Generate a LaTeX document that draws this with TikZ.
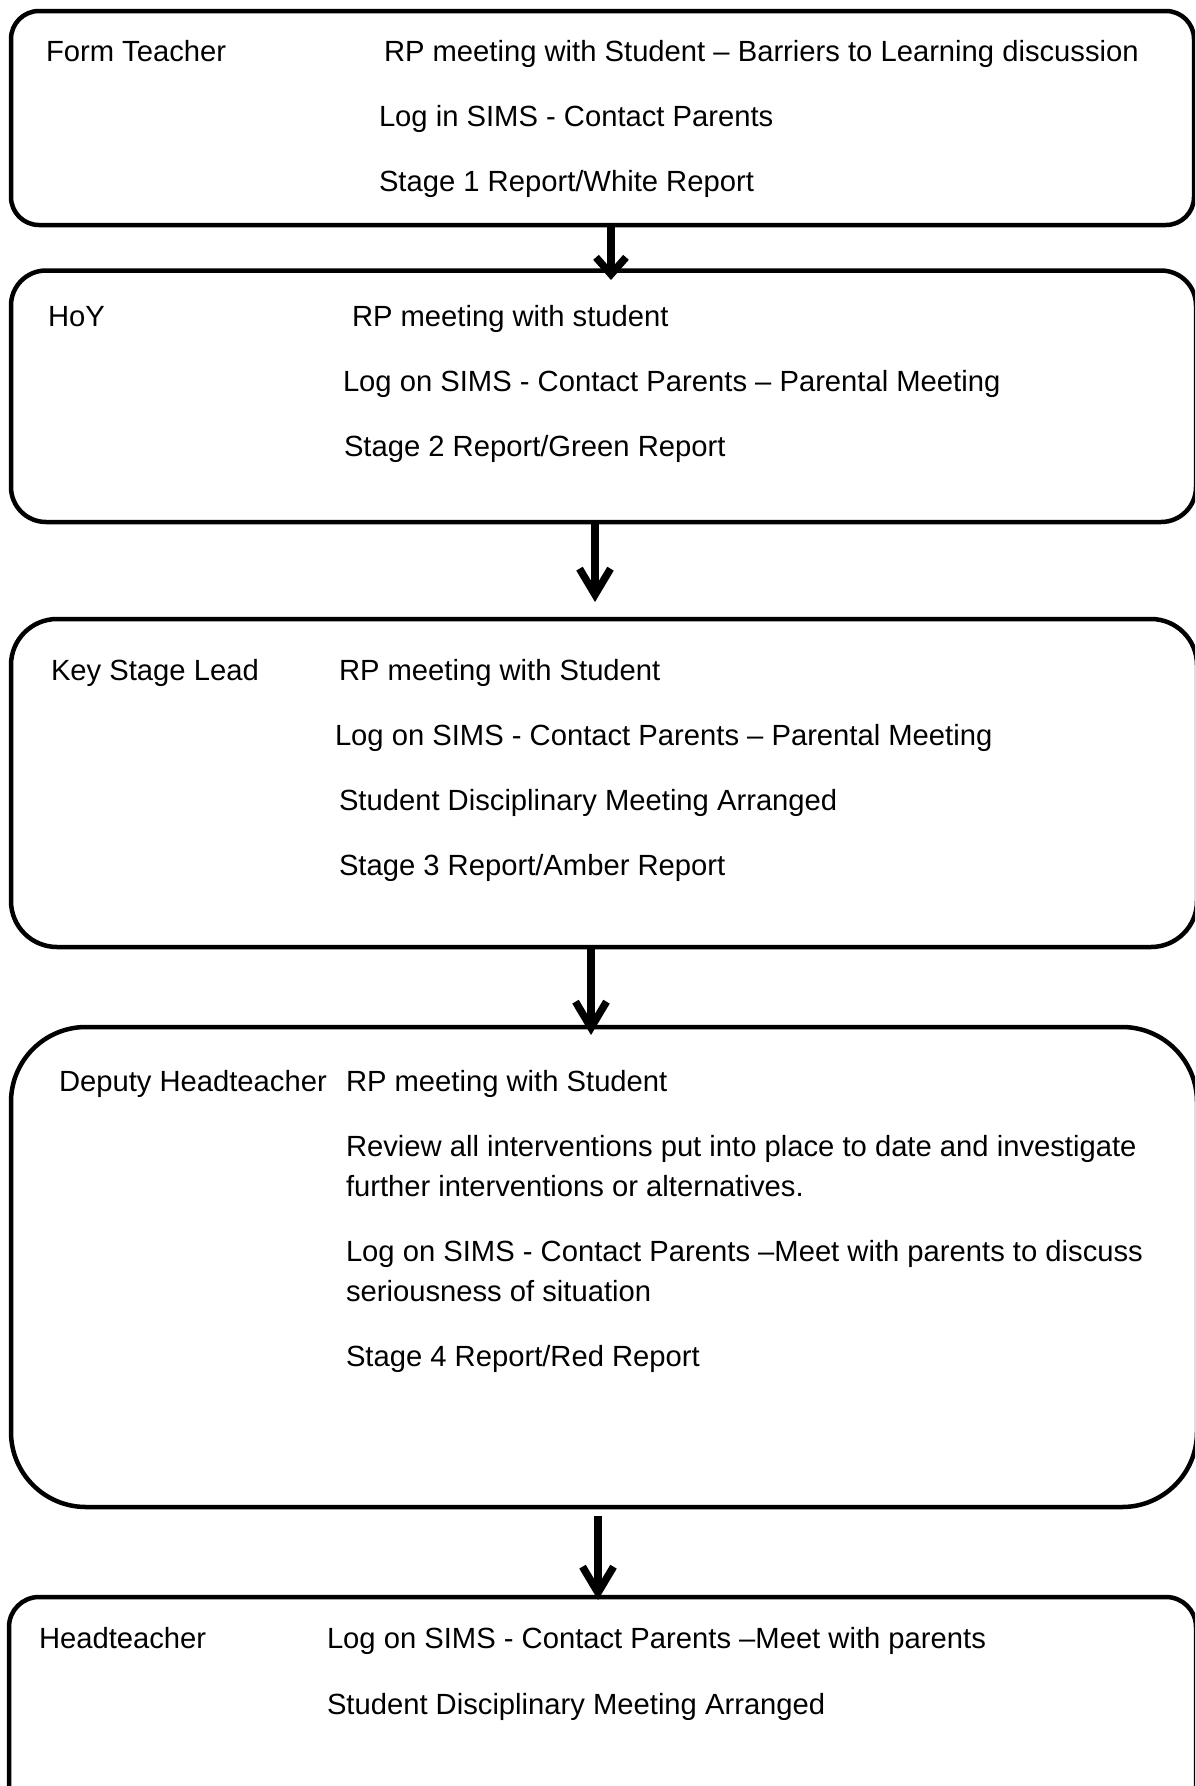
\documentclass[tikz,border=0pt]{standalone}
\usepackage{fontspec}
\setmainfont{Liberation Sans}
\usetikzlibrary{arrows.meta,calc}
\begin{document}
\begin{tikzpicture}[x=1pt,y=-1pt,
  box/.style={draw=black, line width=4.5pt, fill=none, inner sep=0pt, outer sep=0pt},
  txt/.style={anchor=base west, inner sep=0pt, outer sep=0pt, font=\fontsize{29.2}{40}\selectfont},
  arr/.style={line width=7.5pt, -{Straight Barb[length=26pt,width=31pt]}},
  arrshort/.style={line width=7.5pt, -{Straight Barb[length=17pt,width=30pt]}}]
\useasboundingbox (0,0) rectangle (1195,1786);
\clip (0,0) rectangle (1195,1786);
\fill[white] (0,0) rectangle (1195,1786);
% boxes
\node[box, minimum width=1183pt, minimum height=214pt, rounded corners=28pt] (b1) at (602.5,118) {};
\node[box, minimum width=1185pt, minimum height=251.5pt, rounded corners=35pt] (b2) at (603.5,396.25) {};
\node[box, minimum width=1186pt, minimum height=328pt, rounded corners=46pt] (b3) at (604,783) {};
\node[box, minimum width=1186pt, minimum height=480pt, rounded corners=75pt] (b4) at (604,1267) {};
\node[box, minimum width=1187pt, minimum height=240pt, rounded corners=30pt] (b5) at (602.5,1717) {};
% box 1
\node[txt] (t11) at (46,61.7) {Form Teacher};
\node[txt] (t12) at (384,61.7) {RP meeting with Student – Barriers to Learning discussion};
\node[txt] (t13) at (379,126.7) {Log in SIMS - Contact Parents};
\node[txt] (t14) at (379,191.7) {Stage 1 Report/White Report};
% box 2
\node[txt] (t21) at (48,326.5) {HoY};
\node[txt] (t22) at (352,326.5) {RP meeting with student};
\node[txt] (t23) at (343,391.5) {Log on SIMS - Contact Parents – Parental Meeting};
\node[txt] (t24) at (344,456.5) {Stage 2 Report/Green Report};
% box 3
\node[txt] (t31) at (51,680.5) {Key Stage Lead};
\node[txt] (t32) at (339,680.5) {RP meeting with Student};
\node[txt] (t33) at (335,745.5) {Log on SIMS - Contact Parents – Parental Meeting};
\node[txt] (t34) at (339,810.5) {Student Disciplinary Meeting Arranged};
\node[txt] (t35) at (339,875.5) {Stage 3 Report/Amber Report};
% box 4
\node[txt] (t41) at (59,1091.5) {Deputy Headteacher};
\node[txt] (t42) at (346,1091.5) {RP meeting with Student};
\node[txt] (t43) at (346,1156.5) {Review all interventions put into place to date and investigate};
\node[txt] (t44) at (346,1196.5) {further interventions or alternatives.};
\node[txt] (t45) at (346,1261.5) {Log on SIMS - Contact Parents –Meet with parents to discuss};
\node[txt] (t46) at (346,1301.5) {seriousness of situation};
\node[txt] (t47) at (346,1366.5) {Stage 4 Report/Red Report};
% box 5
\node[txt] (t51) at (39,1648.5) {Headteacher};
\node[txt] (t52) at (327,1648.5) {Log on SIMS - Contact Parents –Meet with parents};
\node[txt] (t53) at (327,1714.5) {Student Disciplinary Meeting Arranged};
% arrows
\coordinate (a1) at (611,0);
\coordinate (a2) at (595,0);
\coordinate (a3) at (591,0);
\coordinate (a4) at (598,0);
\draw[arrshort] (b1.south -| a1) -- ($(b2.north -| a1)+(0,9.5)$);
\draw[arr] (b2.south -| a2) -- ($(b3.north -| a2)+(0,-17)$);
\draw[arr] (b3.south -| a3) -- ($(b4.north -| a3)+(0,8)$);
\draw[arr] ($(b4.south -| a4)+(0,9)$) -- ($(b5.north -| a4)+(0,3)$);
\end{tikzpicture}
\end{document}
